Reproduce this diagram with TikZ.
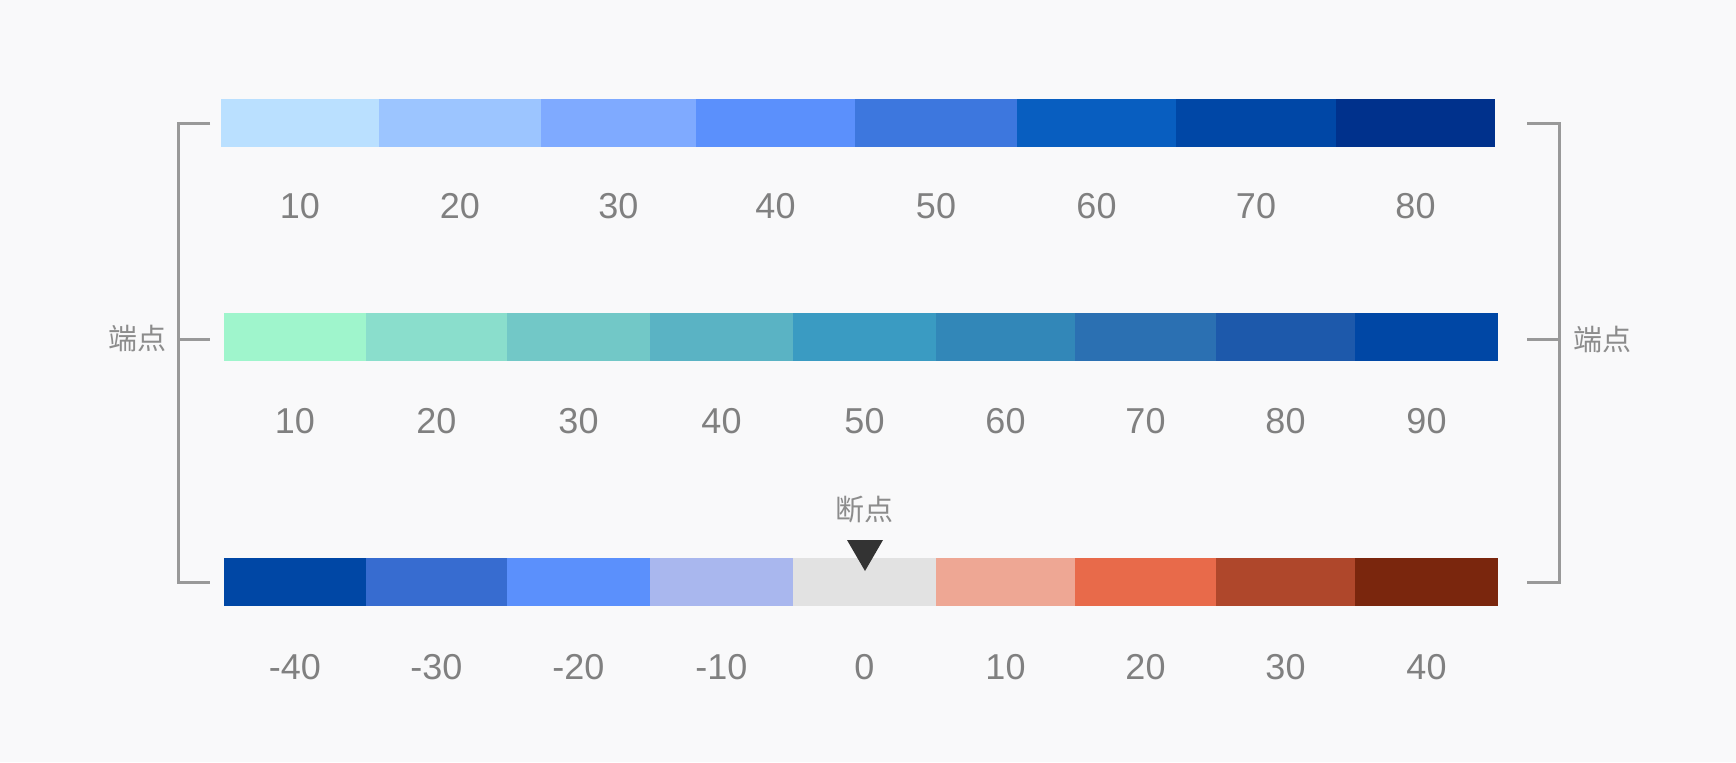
\documentclass[tikz,border=0pt]{standalone}
\usepackage{fontspec}
\setmainfont{Liberation Sans}
\newfontfamily\cjk{Noto Sans CJK SC}

\definecolor{bgcol}{RGB}{249,249,250}
\definecolor{numgray}{RGB}{128,128,128}
\definecolor{taggray}{RGB}{140,140,140}
\definecolor{linegray}{RGB}{153,153,153}
\definecolor{markgray}{RGB}{51,51,51}
% top scale
\definecolor{ta}{HTML}{BAE0FF}
\definecolor{tb}{HTML}{9CC5FF}
\definecolor{tc}{HTML}{7FAAFF}
\definecolor{td}{HTML}{5B90FC}
\definecolor{te}{HTML}{3D77DE}
\definecolor{tf}{HTML}{085EC0}
\definecolor{tg}{HTML}{0047A6}
\definecolor{th}{HTML}{00318C}
% middle scale
\definecolor{ma}{HTML}{9FF5CC}
\definecolor{mb}{HTML}{8ADECC}
\definecolor{mc}{HTML}{72C8C7}
\definecolor{md}{HTML}{5AB3C4}
\definecolor{me}{HTML}{3A9BC2}
\definecolor{mf}{HTML}{3287B8}
\definecolor{mg}{HTML}{2B70B2}
\definecolor{mh}{HTML}{1D59AB}
\definecolor{mi}{HTML}{0047A5}
% bottom scale
\definecolor{ba}{HTML}{0047A5}
\definecolor{bb}{HTML}{376CD0}
\definecolor{bc}{HTML}{5B90FC}
\definecolor{bd}{HTML}{A9B7EE}
\definecolor{be}{HTML}{E2E2E2}
\definecolor{bf}{HTML}{EEA794}
\definecolor{bg}{HTML}{E86A4A}
\definecolor{bh}{HTML}{AF472B}
\definecolor{bi}{HTML}{7A260D}

\tikzset{every picture/.style={line width=0.75pt}}

\begin{document}
\begin{tikzpicture}[x=0.5pt,y=0.5pt,yscale=-1,xscale=1,
  cell/.style={inner sep=0pt, outer sep=0pt, minimum height=24pt},
  num/.style={text=numgray, font=\fontsize{18}{20}\selectfont, inner sep=0.75pt},
  tag/.style={text=taggray, font=\cjk\fontsize{14.5}{16}\selectfont, inner sep=0.75pt},
  brace/.style={draw=linegray, line width=1.5pt}]
%set diagram left start at 0, and has size of 1736 x 762
\fill [bgcol] (0,0) rectangle (1736,762);
\useasboundingbox (0,0) rectangle (1736,762);

%Top scale
\foreach \a/\b/\c/\t [count=\i] in {221/379/ta/10, 379/541/tb/20, 541/696/tc/30, 696/855/td/40, 855/1017/te/50, 1017/1176/tf/60, 1176/1336/tg/70, 1336/1495/th/80}
{
  \node [cell, fill=\c, minimum width={(\b-\a)*0.5pt}] (t\i) at ({(\a+\b)/2},123) {};
  \node [num] (tn\i) at ({(\a+\b)/2},206) {\t};
}

%Middle scale
\foreach \a/\b/\c/\t [count=\i] in {224/366/ma/10, 366/507/mb/20, 507/650/mc/30, 650/793/md/40, 793/936/me/50, 936/1075/mf/60, 1075/1216/mg/70, 1216/1355/mh/80, 1355/1498/mi/90}
{
  \node [cell, fill=\c, minimum width={(\b-\a)*0.5pt}] (m\i) at ({(\a+\b)/2},337) {};
  \node [num] (mn\i) at ({(\a+\b)/2},421) {\t};
}

%Bottom scale
\foreach \a/\b/\c/\t [count=\i] in {224/366/ba/-40, 366/507/bb/-30, 507/650/bc/-20, 650/793/bd/-10, 793/936/be/0, 936/1075/bf/10, 1075/1216/bg/20, 1216/1355/bh/30, 1355/1498/bi/40}
{
  \node [cell, fill=\c, minimum width={(\b-\a)*0.5pt}] (b\i) at ({(\a+\b)/2},582) {};
  \node [num] (bn\i) at ({(\a+\b)/2},667) {\t};
}

%Break point marker
\fill [markgray] (847,540) -- (883,540) -- (865,571) -- cycle ;
% Text Node
\node [tag] (brk) at (864,510) {断点};

%Left bracket
\coordinate (lt) at (210,123);
\coordinate (lm) at (210,339);
\coordinate (lb) at (210,582);
\draw [brace] (lt) -- (178,123) -- (178,582) -- (lb) ;
\draw [brace] (178,339) -- (lm) ;
% Text Node
\node [tag] (endl) at (137,338) {端点};

%Right bracket
\coordinate (rt) at (1527,123);
\coordinate (rm) at (1527,339);
\coordinate (rb) at (1527,582);
\draw [brace] (rt) -- (1559,123) -- (1559,582) -- (rb) ;
\draw [brace] (1559,339) -- (rm) ;
% Text Node
\node [tag] (endr) at (1602,339) {端点};

\end{tikzpicture}
\end{document}
